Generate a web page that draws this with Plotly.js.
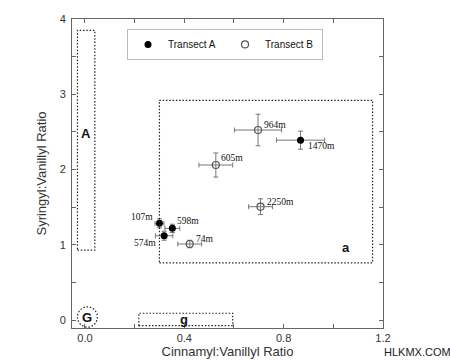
<!DOCTYPE html>
<html><head><meta charset="utf-8">
<script src="https://cdn.plot.ly/plotly-3.0.1.min.js"></script>
<style>body{margin:0;background:#fff}#c{width:450px;height:362px}</style>
</head><body><div id="c"></div>
<script>
// Transect A (filled)
const aLabels = ['107m', '574m', '598m', '1470m'];
const aCV = [0.300, 0.319, 0.352, 0.868];
const aSV = [1.285, 1.120, 1.218, 2.390];
const aCVerr = [0.018, 0.035, 0.030, 0.097];
const aSVerr = [0.060, 0.060, 0.055, 0.120];
// Transect B (open)
const bLabels = ['74m', '605m', '964m', '2250m'];
const bCV = [0.422, 0.527, 0.697, 0.707];
const bSV = [1.010, 2.060, 2.525, 1.506];
const bCVerr = [0.048, 0.068, 0.095, 0.048];
const bSVerr = [0.050, 0.160, 0.210, 0.105];
// source regions
const regionNames = ['A', 'a', 'g'];
const regionX0 = [-0.030, 0.300, 0.217];
const regionX1 = [0.040, 1.158, 0.595];
const regionY0 = [0.930, 0.760, -0.075];
const regionY1 = [3.850, 2.920, 0.090];
const regionLabelX = [0.005, 1.05, 0.40];
const regionLabelY = [2.48, 0.97, 0.01];
// circular region G
const gCenterX = [0.010];
const gCenterY = [0.040];
const gRadX = [0.040];
const gRadY = [0.135];

const xTicks = [0, 0.2, 0.4, 0.6, 0.8, 1.0, 1.2];
const xTickText = ['0.0', '', '0.4', '', '0.8', '', '1.2'];
const yTicks = [0, 0.5, 1, 1.5, 2, 2.5, 3, 3.5, 4];
const yTickText = ['0', '', '1', '', '2', '', '3', '', '4'];

// label offsets (pixels) per sample
const labelOffsets = {
  '107m': [-4, 6, 'right'], '574m': [-6, -7, 'right'], '598m': [3, 7, 'left'],
  '1470m': [5, -6, 'left'], '74m': [4, 5, 'left'], '605m': [3, 7, 'left'],
  '964m': [4, 5, 'left'], '2250m': [4, 5, 'left']
};

const errStyle = {color: '#777', thickness: 1, width: 2.5};
const traceA = {
  x: aCV, y: aSV, mode: 'markers', type: 'scatter', name: 'Transect A',
  marker: {symbol: 'circle', size: 7, color: '#000'},
  error_x: Object.assign({type: 'data', array: aCVerr, visible: true}, errStyle),
  error_y: Object.assign({type: 'data', array: aSVerr, visible: true}, errStyle)
};
const traceB = {
  x: bCV, y: bSV, mode: 'markers', type: 'scatter', name: 'Transect B',
  marker: {symbol: 'circle-open', size: 7, color: '#555', line: {width: 1.2, color: '#555'}},
  error_x: Object.assign({type: 'data', array: bCVerr, visible: true}, errStyle),
  error_y: Object.assign({type: 'data', array: bSVerr, visible: true}, errStyle)
};

const shapes = [];
const annotations = [];
const dotLine = {color: '#222', width: 1.2, dash: '1.5px,1.8px'};
regionNames.forEach((n, i) => {
  shapes.push({type: 'rect', xref: 'x', yref: 'y', x0: regionX0[i], x1: regionX1[i],
    y0: regionY0[i], y1: regionY1[i], line: dotLine});
  annotations.push({x: regionLabelX[i], y: regionLabelY[i], xref: 'x', yref: 'y', text: '<b>' + n + '</b>',
    showarrow: false, font: {family: 'Liberation Sans, Arial, sans-serif', size: 13, color: '#111'}});
});
shapes.push({type: 'circle', xref: 'x', yref: 'y', x0: gCenterX[0] - gRadX[0], x1: gCenterX[0] + gRadX[0],
  y0: gCenterY[0] - gRadY[0], y1: gCenterY[0] + gRadY[0], line: dotLine});
annotations.push({x: gCenterX[0], y: gCenterY[0], xref: 'x', yref: 'y', text: '<b>G</b>', showarrow: false,
  font: {family: 'Liberation Sans, Arial, sans-serif', size: 13, color: '#111'}});

function addLabels(labels, xs, ys) {
  labels.forEach((t, i) => {
    const o = labelOffsets[t];
    annotations.push({x: xs[i], y: ys[i], xref: 'x', yref: 'y', text: t, showarrow: false,
      xanchor: o[2], yanchor: 'middle', xshift: o[0], yshift: o[1],
      font: {family: 'Liberation Serif, Times New Roman, serif', size: 9.5, color: '#111'}});
  });
}
addLabels(aLabels, aCV, aSV);
addLabels(bLabels, bCV, bSV);

const L = 72, R = 67, T = 19, B = 34, W = 450, H = 362;
annotations.push({x: (382 - L) / (W - L - R), y: (H - B - 352) / (H - T - B), xref: 'paper', yref: 'paper',
  text: 'HLKMX.COM', showarrow: false, xanchor: 'left', yanchor: 'middle',
  font: {family: 'Liberation Sans, Arial, sans-serif', size: 11, color: '#222'}});

const axisCommon = {
  showline: true, mirror: 'ticks', linecolor: '#666', linewidth: 1,
  ticks: 'inside', ticklen: 4, tickcolor: '#666', tickwidth: 1,
  showgrid: false, zeroline: false,
  tickfont: {family: 'Liberation Sans, Arial, sans-serif', size: 11, color: '#333'},
  tickmode: 'array'
};

const layout = {
  width: W, height: H,
  margin: {l: L, r: R, t: T, b: B},
  paper_bgcolor: '#fff', plot_bgcolor: '#fff',
  showlegend: true,
  legend: {orientation: 'h', x: 0.492, y: 0.968, xanchor: 'center', yanchor: 'top',
    bordercolor: '#bbb', borderwidth: 1, bgcolor: '#fff',
    font: {family: 'Liberation Sans, Arial, sans-serif', size: 10, color: '#111'},
    itemwidth: 30, tracegroupgap: 0, entrywidth: 52, entrywidthmode: 'pixels'},
  xaxis: Object.assign({}, axisCommon, {range: [-0.052, 1.2], tickvals: xTicks, ticktext: xTickText,
    title: {text: 'Cinnamyl:Vanillyl Ratio', standoff: 3,
      font: {family: 'Liberation Sans, Arial, sans-serif', size: 13, color: '#333'}}}),
  yaxis: Object.assign({}, axisCommon, {range: [-0.106, 4], tickvals: yTicks, ticktext: yTickText,
    ticklabelstandoff: 3,
    title: {text: 'Syringyl:Vanillyl Ratio', standoff: 10,
      font: {family: 'Liberation Sans, Arial, sans-serif', size: 13, color: '#333'}}}),
  shapes: shapes,
  annotations: annotations
};

Plotly.newPlot('c', [traceA, traceB], layout, {displayModeBar: false, staticPlot: true});
</script></body></html>
